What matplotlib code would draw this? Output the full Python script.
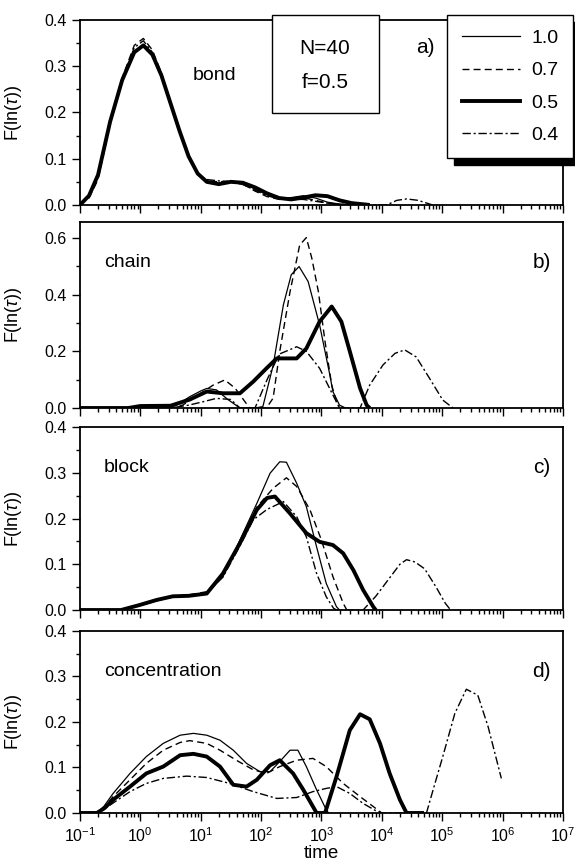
import numpy as np
import matplotlib
matplotlib.use("Agg")
import matplotlib.pyplot as plt
from matplotlib.patches import Rectangle
from matplotlib.ticker import LogLocator, MultipleLocator, NullFormatter

plt.rcParams['font.family'] = ['Liberation Sans', 'DejaVu Sans']
plt.rcParams['mathtext.fontset'] = 'custom'
plt.rcParams['mathtext.rm'] = 'Liberation Sans'
plt.rcParams['mathtext.it'] = 'Liberation Sans:italic'
plt.rcParams['mathtext.bf'] = 'Liberation Sans:bold'

labels = ["1.0", "0.7", "0.5", "0.4"]

# ---- data: log10(time) and F(ln(tau)) for each panel / series ----
# a) bond
bond_t_10 = [-1.0, -0.85, -0.7, -0.5, -0.3, -0.1, 0.05, 0.2, 0.35, 0.5, 0.65, 0.8, 0.95, 1.1, 1.3,
             1.5, 1.7, 1.9, 2.1, 2.3, 2.5, 2.7, 2.9, 3.1, 3.3, 3.6]
bond_v_10 = [0.0, 0.02, 0.065, 0.18, 0.27, 0.33, 0.345, 0.325, 0.28, 0.22, 0.16, 0.105, 0.068, 0.05, 0.045,
             0.05, 0.047, 0.035, 0.022, 0.014, 0.016, 0.02, 0.015, 0.006, 0.002, 0.0]
bond_t_07 = [-1.0, -0.85, -0.7, -0.5, -0.3, -0.1, 0.05, 0.2, 0.35, 0.5, 0.65, 0.8, 0.95, 1.1, 1.3,
             1.5, 1.7, 1.9, 2.1, 2.3, 2.5, 2.7, 2.9, 3.1, 3.4]
bond_v_07 = [0.0, 0.015, 0.055, 0.175, 0.275, 0.345, 0.36, 0.335, 0.285, 0.22, 0.158, 0.103, 0.066, 0.052, 0.05,
             0.052, 0.045, 0.03, 0.018, 0.012, 0.014, 0.016, 0.01, 0.004, 0.0]
bond_t_05 = [-1.0, -0.85, -0.7, -0.5, -0.3, -0.1, 0.05, 0.2, 0.35, 0.5, 0.65, 0.8, 0.95, 1.1, 1.3,
             1.5, 1.7, 1.9, 2.1, 2.3, 2.5, 2.7, 2.9, 3.1, 3.3, 3.5, 3.8]
bond_v_05 = [0.0, 0.02, 0.065, 0.18, 0.27, 0.33, 0.345, 0.325, 0.28, 0.22, 0.16, 0.105, 0.068, 0.05, 0.045,
             0.05, 0.048, 0.038, 0.025, 0.015, 0.012, 0.016, 0.021, 0.019, 0.01, 0.004, 0.0]
bond_t_04 = [-1.0, -0.85, -0.7, -0.5, -0.3, -0.1, 0.05, 0.2, 0.35, 0.5, 0.65, 0.8, 0.95, 1.1, 1.3,
             1.5, 1.7, 1.9, 2.1, 2.3, 2.5, 2.7, 2.9, 3.2, 3.6, 4.08, 4.25, 4.41, 4.6, 4.84]
bond_v_04 = [0.0, 0.018, 0.06, 0.178, 0.272, 0.34, 0.355, 0.33, 0.282, 0.22, 0.16, 0.104, 0.066, 0.055, 0.052,
             0.05, 0.044, 0.032, 0.02, 0.013, 0.012, 0.012, 0.008, 0.002, 0.0, 0.0, 0.01, 0.013, 0.01, 0.0]

# b) chain
chain_t_10 = [-1.0, 0.4, 0.6, 0.82, 1.0, 1.1, 1.26, 1.45, 1.65, 1.9, 2.03, 2.2, 2.37, 2.5, 2.63,
              2.78, 2.97, 3.14, 3.19, 3.3, 3.4]
chain_v_10 = [0.0, 0.0, 0.01, 0.04, 0.06, 0.069, 0.064, 0.03, 0.0, 0.0, 0.005, 0.15, 0.364, 0.47, 0.499,
              0.446, 0.293, 0.116, 0.058, 0.01, 0.0]
chain_t_07 = [-1.0, 0.5, 0.7, 0.99, 1.2, 1.4, 1.57, 1.81, 2.09, 2.2, 2.31, 2.48, 2.64, 2.75, 2.84,
              2.95, 3.06, 3.17, 3.25, 3.3]
chain_v_07 = [0.0, 0.0, 0.01, 0.05, 0.08, 0.099, 0.07, 0.0, 0.0, 0.035, 0.2, 0.41, 0.575, 0.601, 0.529,
              0.41, 0.234, 0.081, 0.022, 0.0]
chain_t_05 = [-1.0, -0.2, 0.0, 0.5, 0.82, 1.1, 1.37, 1.65, 1.87, 2.09, 2.26, 2.59, 2.75, 2.97, 3.17,
              3.33, 3.47, 3.64, 3.75, 3.8]
chain_v_05 = [0.0, 0.0, 0.007, 0.008, 0.03, 0.058, 0.052, 0.052, 0.093, 0.14, 0.175, 0.175, 0.21, 0.305, 0.358,
              0.305, 0.2, 0.07, 0.01, 0.0]
chain_t_04 = [-1.0, 0.5, 0.8, 1.0, 1.26, 1.5, 1.65, 1.9, 2.1, 2.3, 2.59, 2.75, 2.97, 3.19, 3.3,
              3.64, 3.8, 4.02, 4.22, 4.38, 4.57, 4.79, 5.01, 5.18]
chain_v_04 = [0.0, 0.0, 0.01, 0.02, 0.034, 0.03, 0.0, 0.0, 0.1, 0.19, 0.216, 0.2, 0.14, 0.046, 0.0,
              0.0, 0.081, 0.152, 0.193, 0.205, 0.18, 0.105, 0.028, 0.0]

# c) block
block_t_10 = [-1.0, -0.32, -0.01, 0.27, 0.54, 0.8, 1.1, 1.37, 1.65, 1.93, 2.15, 2.31, 2.42, 2.59, 2.75,
              2.92, 3.08, 3.25, 3.3]
block_v_10 = [0.0, 0.0, 0.011, 0.022, 0.03, 0.031, 0.036, 0.073, 0.153, 0.233, 0.299, 0.324, 0.323, 0.277, 0.226,
              0.138, 0.058, 0.007, 0.0]
block_t_07 = [-1.0, -0.32, -0.01, 0.27, 0.54, 0.8, 1.1, 1.37, 1.65, 1.93, 2.2, 2.42, 2.59, 2.81, 3.0,
              3.19, 3.36, 3.42]
block_v_07 = [0.0, 0.0, 0.01, 0.02, 0.03, 0.033, 0.04, 0.075, 0.15, 0.225, 0.266, 0.289, 0.27, 0.219, 0.153,
              0.073, 0.015, 0.0]
block_t_05 = [-1.0, -0.32, -0.01, 0.27, 0.54, 0.8, 1.1, 1.37, 1.65, 1.93, 2.1, 2.23, 2.48, 2.75, 2.97,
              3.19, 3.36, 3.53, 3.69, 3.86, 3.9]
block_v_05 = [0.0, 0.0, 0.011, 0.022, 0.03, 0.031, 0.036, 0.08, 0.146, 0.219, 0.245, 0.248, 0.211, 0.168, 0.149,
              0.142, 0.124, 0.087, 0.044, 0.007, 0.0]
block_t_04 = [-1.0, -0.32, -0.01, 0.27, 0.54, 0.8, 1.1, 1.37, 1.65, 1.87, 2.1, 2.37, 2.59, 2.75, 2.92,
              3.08, 3.2, 3.25, 3.69, 3.9, 4.1, 4.3, 4.41, 4.55, 4.71, 4.9, 5.05, 5.14]
block_v_04 = [0.0, 0.0, 0.01, 0.02, 0.03, 0.032, 0.038, 0.072, 0.14, 0.197, 0.22, 0.237, 0.204, 0.16, 0.08,
              0.029, 0.004, 0.0, 0.0, 0.03, 0.065, 0.1, 0.11, 0.105, 0.09, 0.05, 0.015, 0.0]

# d) concentration
conc_t_10 = [-1.0, -0.72, -0.6, -0.45, -0.17, 0.1, 0.38, 0.66, 0.88, 1.1, 1.32, 1.54, 1.76, 1.98, 2.15,
             2.31, 2.48, 2.61, 2.75, 2.92, 3.08, 3.12]
conc_v_10 = [0.0, 0.0, 0.015, 0.043, 0.087, 0.124, 0.153, 0.171, 0.175, 0.171, 0.16, 0.138, 0.109, 0.091, 0.091,
             0.113, 0.138, 0.138, 0.102, 0.051, 0.007, 0.0]
conc_t_07 = [-1.0, -0.72, -0.6, -0.45, -0.17, 0.1, 0.38, 0.66, 0.82, 1.1, 1.32, 1.59, 1.87, 2.09, 2.31,
             2.59, 2.86, 3.08, 3.36, 3.64, 3.86, 4.0]
conc_v_07 = [0.0, 0.0, 0.012, 0.036, 0.073, 0.109, 0.138, 0.155, 0.159, 0.153, 0.138, 0.116, 0.095, 0.087, 0.102,
             0.116, 0.12, 0.102, 0.065, 0.036, 0.014, 0.0]
conc_t_05 = [-1.0, -0.72, -0.6, -0.45, -0.17, 0.1, 0.38, 0.66, 0.88, 1.1, 1.32, 1.54, 1.76, 1.93, 2.15,
             2.31, 2.53, 2.7, 2.86, 2.92, 3.06, 3.25, 3.47, 3.64, 3.8, 3.97, 4.13, 4.3, 4.41, 4.7]
conc_v_05 = [0.0, 0.0, 0.01, 0.029, 0.058, 0.087, 0.102, 0.127, 0.13, 0.124, 0.102, 0.062, 0.058, 0.073, 0.105,
             0.116, 0.087, 0.051, 0.014, 0.0, 0.0, 0.08, 0.182, 0.217, 0.206, 0.153, 0.087, 0.029, 0.0, 0.0]
conc_t_04 = [-1.0, -0.72, -0.6, -0.45, -0.17, 0.1, 0.38, 0.77, 1.1, 1.48, 1.87, 2.26, 2.59, 2.86, 3.08,
             3.25, 3.47, 3.69, 3.9, 4.0, 4.74, 4.85, 5.01, 5.21, 5.4, 5.59, 5.76, 5.98]
conc_v_04 = [0.0, 0.0, 0.008, 0.022, 0.047, 0.065, 0.076, 0.081, 0.078, 0.065, 0.047, 0.032, 0.034, 0.047, 0.054,
             0.058, 0.043, 0.021, 0.005, 0.0, 0.0, 0.051, 0.124, 0.219, 0.272, 0.259, 0.19, 0.076]

panels = [
    ("bond", "a)", [(bond_t_10, bond_v_10), (bond_t_07, bond_v_07), (bond_t_05, bond_v_05), (bond_t_04, bond_v_04)]),
    ("chain", "b)", [(chain_t_10, chain_v_10), (chain_t_07, chain_v_07), (chain_t_05, chain_v_05), (chain_t_04, chain_v_04)]),
    ("block", "c)", [(block_t_10, block_v_10), (block_t_07, block_v_07), (block_t_05, block_v_05), (block_t_04, block_v_04)]),
    ("concentration", "d)", [(conc_t_10, conc_v_10), (conc_t_07, conc_v_07), (conc_t_05, conc_v_05), (conc_t_04, conc_v_04)]),
]

styles = [
    dict(color='k', lw=0.9, ls='-'),
    dict(color='k', lw=1.0, ls=(0, (5, 3))),
    dict(color='k', lw=2.8, ls='-'),
    dict(color='k', lw=1.0, ls=(0, (6, 2, 1.5, 2))),
]

fig = plt.figure(figsize=(5.75, 8.67), dpi=100)

# axes boxes in figure fraction: left, bottom, width, height
left, width = 0.139, 0.840
boxes = [(0.7636, 0.2134), (0.5294, 0.2145), (0.2964, 0.2111), (0.0623, 0.2099)]
ylims = [0.4, 0.656, 0.4, 0.4]

axes = []
for i, (name, tag, series) in enumerate(panels):
    b, h = boxes[i]
    ax = fig.add_axes([left, b, width, h])
    for (t, v), st in zip(series, styles):
        ax.plot(10 ** np.array(t), v, **st, solid_capstyle='butt', solid_joinstyle='round')
    ax.set_xscale('log')
    ax.set_xlim(1e-1, 1e7)
    ax.set_ylim(0, ylims[i])
    ax.xaxis.set_major_locator(LogLocator(base=10, numticks=20))
    ax.xaxis.set_minor_locator(LogLocator(base=10, subs=np.arange(2, 10), numticks=20))
    ax.xaxis.set_minor_formatter(NullFormatter())
    if i == 1:
        ax.yaxis.set_major_locator(MultipleLocator(0.2))
        ax.yaxis.set_minor_locator(MultipleLocator(0.1))
    else:
        ax.yaxis.set_major_locator(MultipleLocator(0.1))
        ax.yaxis.set_minor_locator(MultipleLocator(0.05))
    ax.yaxis.set_major_formatter(matplotlib.ticker.FormatStrFormatter('%.1f'))
    ax.tick_params(which='both', direction='out', top=False, right=False, width=1.0, labelsize=11.5)
    ax.tick_params(which='major', length=6)
    ax.tick_params(which='minor', length=3)
    if i < 3:
        ax.tick_params(axis='x', labelbottom=False)
    for s in ax.spines.values():
        s.set_linewidth(1.3)
    ax.set_ylabel(r"F(ln($\tau$))", fontsize=13)
    ax.yaxis.set_label_coords(-0.115, 0.5)
    if i == 0:
        ax.text(0.278, 0.70, name, transform=ax.transAxes, fontsize=14, ha='center', va='center')
        ax.text(0.715, 0.85, tag, transform=ax.transAxes, fontsize=15, ha='center', va='center')
    else:
        ax.text(0.05, 0.78, name, transform=ax.transAxes, fontsize=14, ha='left', va='center')
        ax.text(0.975, 0.78, tag, transform=ax.transAxes, fontsize=15, ha='right', va='center')
    axes.append(ax)

axes[3].set_xlabel("time", fontsize=13.5, labelpad=0)

# N / f box over the top panel
fig.patches.append(Rectangle((272 / 575, 1 - 113 / 867), 107 / 575, 98 / 867, transform=fig.transFigure,
                             facecolor='white', edgecolor='k', lw=1.0, zorder=10))
fig.text(325 / 575, 1 - 49 / 867, "N=40", fontsize=15, ha='center', va='center', zorder=11)
fig.text(325 / 575, 1 - 82 / 867, "f=0.5", fontsize=15, ha='center', va='center', zorder=11)

handles = [plt.Line2D([], [], **st) for st in styles]
leg = fig.legend(handles, labels, loc='upper left', bbox_to_anchor=(447 / 575, 1 - 15 / 867),
                 fontsize=14, frameon=True, fancybox=False, handlelength=3.0, handletextpad=0.6,
                 labelspacing=0.75, borderpad=0.75, borderaxespad=0,
                 shadow={'ox': 5, 'oy': -5, 'facecolor': 'k', 'edgecolor': 'k', 'alpha': 1})
leg.get_frame().set_edgecolor('k')
leg.get_frame().set_linewidth(1.0)

fig.savefig("out.png", dpi=100)
